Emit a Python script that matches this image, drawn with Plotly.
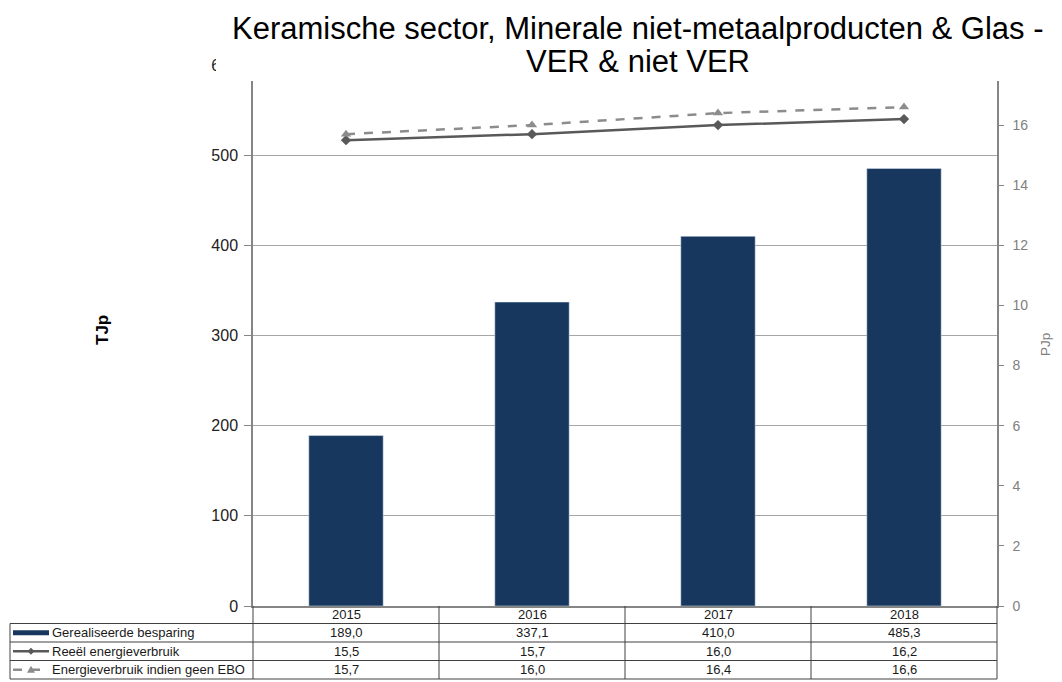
import plotly.graph_objects as go

years = ["2015", "2016", "2017", "2018"]
besparing = [189.0, 337.1, 410.0, 485.3]
reeel = [15.5, 15.7, 16.0, 16.2]
ebo = [15.7, 16.0, 16.4, 16.6]
series_names = ["Gerealiseerde besparing", "Reeël energieverbruik", "Energieverbruik indien geen EBO"]
title_lines = ["Keramische sector, Minerale niet-metaalproducten & Glas -", "VER & niet VER"]

# page is rendered with an 8px body margin: compensate
OFF = 8
PW, PH = 1062, 682
W, H = PW - OFF, PH - OFF
L, R, T, B = 253, 997, 65, 606   # plot area in page pixels


def px(x):
    return (x - L) / (R - L)


def py(y):
    return (B - y) / (B - T)


BAR_COLOR = "#17375e"
LINE1 = "#595959"
LINE2 = "#8c8c8c"
AXIS = "#868686"
GRID = "#a6a6a6"
FONT = "Liberation Sans, Arial, sans-serif"

fig = go.Figure()
fig.add_trace(go.Bar(x=years, y=besparing, name=series_names[0], marker_color=BAR_COLOR,
                     width=0.4, yaxis="y"))
fig.add_trace(go.Scatter(x=years, y=reeel, name=series_names[1], mode="lines+markers",
                         line=dict(color=LINE1, width=2.5),
                         marker=dict(symbol="diamond", size=8, color=LINE1), yaxis="y2"))
fig.add_trace(go.Scatter(x=years, y=ebo, name=series_names[2], mode="lines+markers",
                         line=dict(color=LINE2, width=2.5, dash="dash"),
                         marker=dict(symbol="triangle-up", size=9, color=LINE2), yaxis="y2"))

shapes = []
annotations = []

# white box behind title (covers the top of the plot area, as in the reference)
shapes.append(dict(type="rect", xref="paper", yref="paper", x0=px(216), x1=px(1070),
                   y0=py(81), y1=py(-5), fillcolor="white", line=dict(width=0), layer="above"))

# data table
rows_y = [606, 623.5, 642, 660.5, 679]
ncat = len(years)
colw = (R - L) / ncat
col_x = [L + colw * i for i in range(ncat + 1)]
tbl_line = dict(color="#404040", width=1)
for y in rows_y[1:]:
    shapes.append(dict(type="line", xref="paper", yref="paper", x0=px(10), x1=px(R),
                       y0=py(y), y1=py(y), line=tbl_line, layer="above"))
for x in col_x:
    shapes.append(dict(type="line", xref="paper", yref="paper", x0=px(x), x1=px(x),
                       y0=py(606), y1=py(rows_y[-1]), line=tbl_line, layer="above"))
shapes.append(dict(type="line", xref="paper", yref="paper", x0=px(10), x1=px(10),
                   y0=py(rows_y[1]), y1=py(rows_y[-1]), line=tbl_line, layer="above"))

cell_font = dict(family=FONT, size=13, color="#1a1a1a")
row_vals = [[f"{v:.1f}".replace(".", ",") for v in s] for s in (besparing, reeel, ebo)]
for i, yr in enumerate(years):
    cx = px(col_x[i] + colw / 2)
    annotations.append(dict(x=cx, y=py((rows_y[0] + rows_y[1]) / 2), xref="paper", yref="paper",
                            text=yr, showarrow=False, font=cell_font, xanchor="center", yanchor="middle"))
    for r in range(3):
        annotations.append(dict(x=cx, y=py((rows_y[r + 1] + rows_y[r + 2]) / 2), xref="paper",
                                yref="paper", text=row_vals[r][i], showarrow=False, font=cell_font,
                                xanchor="center", yanchor="middle"))

# legend keys in table
for r, name in enumerate(series_names):
    yc = (rows_y[r + 1] + rows_y[r + 2]) / 2
    annotations.append(dict(x=px(50), y=py(yc), xref="paper", yref="paper", text=name,
                            showarrow=False, font=cell_font, xanchor="left", yanchor="middle"))
ky = (rows_y[1] + rows_y[2]) / 2
shapes.append(dict(type="rect", xref="paper", yref="paper", x0=px(13), x1=px(49),
                   y0=py(ky + 2.5), y1=py(ky - 2.5), fillcolor=BAR_COLOR, line=dict(width=0),
                   layer="above"))
ky = (rows_y[2] + rows_y[3]) / 2
shapes.append(dict(type="line", xref="paper", yref="paper", x0=px(13), x1=px(49),
                   y0=py(ky), y1=py(ky), line=dict(color=LINE1, width=2.5), layer="above"))
d = 3.5
shapes.append(dict(type="path", xref="paper", yref="paper",
                   path=f"M {px(31-d)},{py(ky)} L {px(31)},{py(ky-d)} L {px(31+d)},{py(ky)} L {px(31)},{py(ky+d)} Z",
                   fillcolor=LINE1, line=dict(width=0), layer="above"))
ky = (rows_y[3] + rows_y[4]) / 2
shapes.append(dict(type="line", xref="paper", yref="paper", x0=px(13), x1=px(49),
                   y0=py(ky), y1=py(ky), line=dict(color=LINE2, width=2.5, dash="dash"), layer="above"))
shapes.append(dict(type="path", xref="paper", yref="paper",
                   path=f"M {px(31-4)},{py(ky+3)} L {px(31)},{py(ky-4)} L {px(31+4)},{py(ky+3)} Z",
                   fillcolor=LINE2, line=dict(width=0), layer="above"))

# title (two lines, tight spacing)
for line, yc in zip(title_lines, (28, 62)):
    annotations.append(dict(x=px(638), y=py(yc), xref="paper", yref="paper", text=line,
                            showarrow=False, font=dict(family=FONT, size=31, color="#000000"),
                            xanchor="center", yanchor="middle", align="center"))
# axis titles
annotations.append(dict(x=px(102), y=py(330), xref="paper", yref="paper", text="<b>TJp</b>",
                        showarrow=False, textangle=-90, font=dict(family=FONT, size=17, color="#000000"),
                        xanchor="center", yanchor="middle"))
annotations.append(dict(x=px(1045), y=py(345), xref="paper", yref="paper", text="PJp",
                        showarrow=False, textangle=-90, font=dict(family=FONT, size=13.5, color="#808080"),
                        xanchor="center", yanchor="middle"))

fig.update_layout(
    width=W, height=H,
    margin=dict(l=L - OFF, r=OFF + W - R, t=T - OFF, b=OFF + H - B, pad=0),
    paper_bgcolor="white", plot_bgcolor="white",
    showlegend=False,
    font=dict(family=FONT),
    xaxis=dict(type="category", showticklabels=False, showline=True, linecolor=AXIS, linewidth=1.5,
               ticks="", showgrid=False, range=[-0.5, 3.5], zeroline=False),
    yaxis=dict(range=[0, 600], dtick=100, showline=True, linecolor=AXIS, linewidth=1.5,
               ticks="outside", ticklen=7, tickcolor=AXIS, showgrid=True, gridcolor=GRID,
               gridwidth=1, zeroline=False, tickfont=dict(family=FONT, size=16, color="#222222"),
               ticklabelstandoff=3),
    yaxis2=dict(range=[0, 18], dtick=2, overlaying="y", side="right", showline=True,
                linecolor=AXIS, linewidth=1.5, ticks="outside", ticklen=5, tickcolor=AXIS,
                showgrid=False, zeroline=False,
                tickfont=dict(family=FONT, size=14, color="#808080"), ticklabelstandoff=6),
    shapes=shapes,
    annotations=annotations,
)

fig.write_html("out.html")
